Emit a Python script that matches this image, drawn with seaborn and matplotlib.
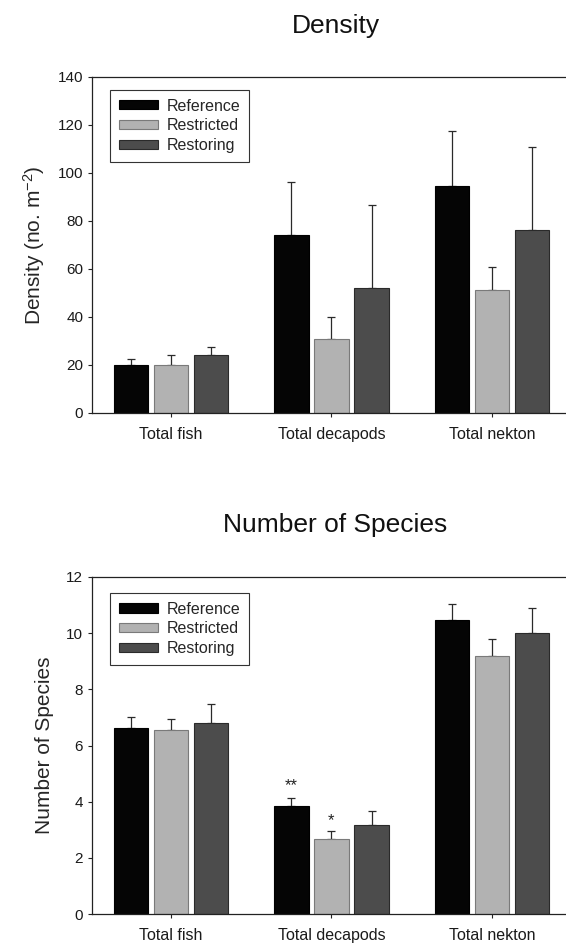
import matplotlib
matplotlib.use("Agg")
import matplotlib.pyplot as plt
from matplotlib.patches import Patch
import numpy as np
import pandas as pd
import seaborn as sns

# ---------------- data ----------------
categories = ["Total fish", "Total decapods", "Total nekton"]
sites = ["Reference", "Restricted", "Restoring"]

density_reference = [20.2, 74.2, 94.5]
density_restricted = [20.2, 30.8, 51.1]
density_restoring = [24.2, 51.9, 76.1]
density_se_reference = [2.1, 22.1, 23.0]
density_se_restricted = [3.9, 9.2, 9.9]
density_se_restoring = [3.3, 34.9, 34.9]

species_reference = [6.63, 3.85, 10.48]
species_restricted = [6.56, 2.66, 9.20]
species_restoring = [6.81, 3.17, 9.99]
species_se_reference = [0.39, 0.28, 0.55]
species_se_restricted = [0.40, 0.29, 0.60]
species_se_restoring = [0.66, 0.49, 0.90]

density_ticks = [0, 20, 40, 60, 80, 100, 120, 140]
species_ticks = [0, 2, 4, 6, 8, 10, 12]

# significance marks: (category, site, label, y baseline)
species_marks = [("Total decapods", "Reference", "**", 4.42),
                 ("Total decapods", "Restricted", "*", 3.18)]

# ---------------- style ----------------
sns.set_style("ticks")
plt.rcParams["font.family"] = ["Liberation Sans", "DejaVu Sans"]
plt.rcParams["mathtext.fontset"] = "custom"
plt.rcParams["mathtext.rm"] = "Liberation Sans"
plt.rcParams["mathtext.it"] = "Liberation Sans:italic"
plt.rcParams["axes.linewidth"] = 0.9

fill_colors = ["#050505", "#b2b2b2", "#4c4c4c"]
edge_colors = ["#000000", "#7a7a7a", "#2a2a2a"]

fig = plt.figure(figsize=(5.66, 9.46), dpi=100)

W = 566.0
H = 946.0
left = 91.5 / W
ax_top = fig.add_axes([left, 1 - 413 / H, 1 - left, 336 / H])
ax_bot = fig.add_axes([left, 1 - 914 / H, 1 - left, 337 / H])


def make_df(ref, res, rst):
    rows = []
    for site, vals in zip(sites, [ref, res, rst]):
        for cat, v in zip(categories, vals):
            rows.append({"category": cat, "site": site, "value": v})
    return pd.DataFrame(rows)


def draw(ax, df, ses, ylim, ticks, ylabel, labelpad, legend_top):
    sns.barplot(data=df, x="category", y="value", hue="site",
                order=categories, hue_order=sites, palette=fill_colors,
                errorbar=None, width=0.75, gap=0.14, linewidth=0.8,
                legend=False, ax=ax, zorder=2)
    for cont, ec, se in zip(ax.containers, edge_colors, ses):
        xs = []
        ys = []
        for bar in cont:
            bar.set_edgecolor(ec)
            bar.set_linewidth(0.8)
            xs.append(bar.get_x() + bar.get_width() / 2)
            ys.append(bar.get_height())
        ax.errorbar(xs, ys, yerr=[np.zeros(len(se)), se], fmt="none",
                    ecolor="#2a2a2a", elinewidth=0.9, capsize=3.2,
                    capthick=0.9, zorder=1)
    ax.set_xlim(-0.495, 2.461)
    ax.set_ylim(*ylim)
    ax.set_yticks(ticks)
    ax.set_yticklabels([str(t) for t in ticks])
    ax.set_xlabel("")
    ax.set_ylabel(ylabel, fontsize=15, labelpad=labelpad)
    ax.tick_params(axis="y", direction="out", length=3, width=0.8,
                   labelsize=11, pad=3, colors="#222222")
    ax.tick_params(axis="x", direction="out", length=3, width=0.8,
                   labelsize=11.5, pad=7, colors="#222222")
    for lab in ax.get_xticklabels() + ax.get_yticklabels():
        lab.set_color("#1a1a1a")
    for s in ["left", "top", "bottom"]:
        ax.spines[s].set_visible(True)
        ax.spines[s].set_color("#222222")
    ax.spines["right"].set_visible(False)
    handles = [Patch(facecolor=fc, edgecolor=ec, linewidth=0.8, label=s)
               for fc, ec, s in zip(fill_colors, edge_colors, sites)]
    leg = ax.legend(handles=handles, loc="upper left",
                    bbox_to_anchor=(0.04, legend_top), borderaxespad=0,
                    fontsize=11.5, frameon=True, fancybox=False,
                    edgecolor="#333333", framealpha=1, handlelength=2.4,
                    handleheight=0.5, handletextpad=0.55, labelspacing=0.3,
                    borderpad=0.55)
    leg.get_frame().set_linewidth(0.8)


df_density = make_df(density_reference, density_restricted, density_restoring)
df_species = make_df(species_reference, species_restricted, species_restoring)

draw(ax_top, df_density,
     [density_se_reference, density_se_restricted, density_se_restoring],
     (0, 140), density_ticks, "Density (no. m$^{-2}$)", 8, 0.962)
draw(ax_bot, df_species,
     [species_se_reference, species_se_restricted, species_se_restoring],
     (0, 12), species_ticks, "Number of Species", 9, 0.953)

# significance marks
for cat, site, lab, yb in species_marks:
    cont = ax_bot.containers[sites.index(site)]
    bar = cont[categories.index(cat)]
    ax_bot.text(bar.get_x() + bar.get_width() / 2, yb, lab, ha="center",
                va="baseline", fontsize=12, color="#222222")

# panel titles
fig.text(335.5 / W, 1 - 32.7 / H, "Density", ha="center", va="baseline",
         fontsize=19, color="#111111")
fig.text(335.5 / W, 1 - 531.7 / H, "Number of Species", ha="center",
         va="baseline", fontsize=19, color="#111111")

fig.savefig("out.png", dpi=100)
